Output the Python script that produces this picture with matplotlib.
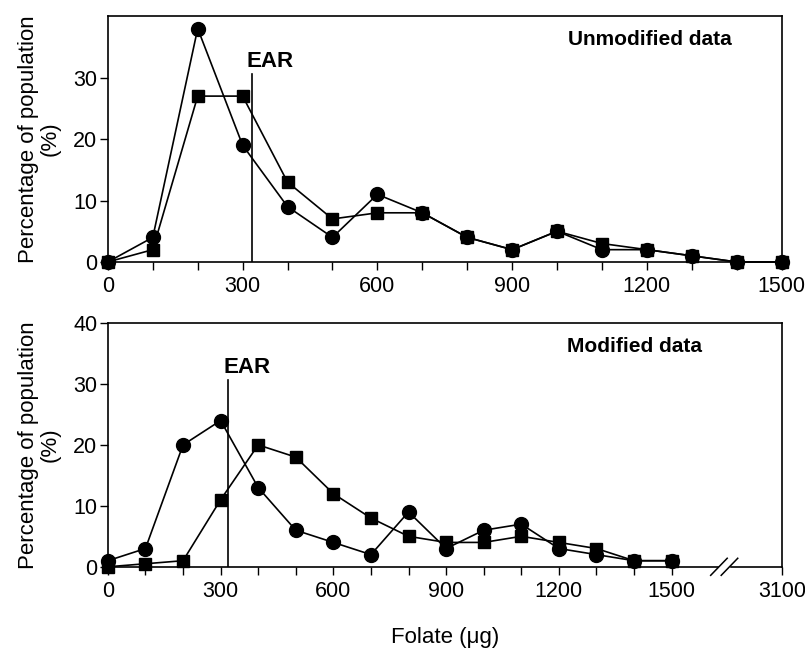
import matplotlib.pyplot as plt
from matplotlib.ticker import MultipleLocator, FixedLocator
import matplotlib.transforms as mtransforms

plt.rcParams['font.family'] = ['Liberation Sans', 'DejaVu Sans']

# Folate intake bins (ug)
folate = [0, 100, 200, 300, 400, 500, 600, 700, 800, 900, 1000, 1100, 1200, 1300, 1400, 1500]

# Unmodified data (% of population)
unmod_circle = [0, 4, 38, 19, 9, 4, 11, 8, 4, 2, 5, 2, 2, 1, 0, 0]
unmod_square = [0, 2, 27, 27, 13, 7, 8, 8, 4, 2, 5, 3, 2, 1, 0, 0]

# Modified data (% of population)
mod_circle = [1, 3, 20, 24, 13, 6, 4, 2, 9, 3, 6, 7, 3, 2, 1, 1]
mod_square = [0, 0.5, 1, 11, 20, 18, 12, 8, 5, 4, 4, 5, 4, 3, 1, 1]

ear = 320
ear_top = 30.6

fig = plt.figure(figsize=(8.05, 6.5), dpi=100)
ax1 = fig.add_axes([0.134, 0.597, 0.837, 0.378])
ax2 = fig.add_axes([0.134, 0.128, 0.838, 0.375])

FS = 15.5


def draw_panel(ax, circ, sq, title, title_x):
    ax.plot(folate, circ, color='black', lw=1.2, marker='o', ms=10,
            clip_on=False, zorder=3)
    ax.plot(folate, sq, color='black', lw=1.2, marker='s', ms=9,
            clip_on=False, zorder=4)
    ax.plot([ear, ear], [0, ear_top], color='black', lw=1.2, zorder=2)
    ax.text(ear - 12, ear_top + 0.4, 'EAR', fontsize=16, fontweight='bold',
            ha='left', va='bottom')
    ax.text(title_x, 0.905, title, transform=ax.transAxes, fontsize=15,
            fontweight='bold', ha='center', va='center')
    ax.set_ylim(0, 40)
    ax.set_ylabel('Percentage of population\n(%)', fontsize=16, labelpad=9,
                  linespacing=1.05)
    ax.tick_params(axis='both', direction='out', length=6, width=1,
                   labelsize=FS)
    ax.tick_params(axis='x', which='minor', direction='out', length=6, width=1)
    ax.tick_params(axis='y', pad=1.5)
    ax.tick_params(axis='x', pad=4)
    for s in ax.spines.values():
        s.set_linewidth(1.2)


# top panel
draw_panel(ax1, unmod_circle, unmod_square, 'Unmodified data', 0.804)
ax1.set_xlim(0, 1500)
ax1.xaxis.set_major_locator(MultipleLocator(300))
ax1.xaxis.set_minor_locator(MultipleLocator(100))
ax1.yaxis.set_major_locator(FixedLocator([0, 10, 20, 30]))

# bottom panel with broken axis (1500 ... 3100)
draw_panel(ax2, mod_circle, mod_square, 'Modified data', 0.78)
axis_end = 1795
ax2.set_xlim(0, axis_end)
ax2.xaxis.set_major_locator(FixedLocator([0, 300, 600, 900, 1200, 1500, axis_end]))
ax2.set_xticklabels(['0', '300', '600', '900', '1200', '1500', '3100'])
ax2.xaxis.set_minor_locator(FixedLocator(list(range(100, 1500, 100))))
ax2.yaxis.set_major_locator(MultipleLocator(10))
ax2.set_xlabel('Folate (\u03bcg)', fontsize=16, labelpad=18)

# break marks on the x axis
trans = mtransforms.blended_transform_factory(ax2.transData, ax2.transAxes)
brk = 1640
ax2.fill_between([brk - 14, brk + 14], -0.01, 0.01, color='white',
                 transform=trans, clip_on=False, zorder=5)
for off in (-14, 14):
    ax2.plot([brk + off - 22, brk + off + 22], [-0.035, 0.035], color='black',
             lw=1.1, transform=trans, clip_on=False, zorder=6)

fig.savefig('out.png', dpi=100)
